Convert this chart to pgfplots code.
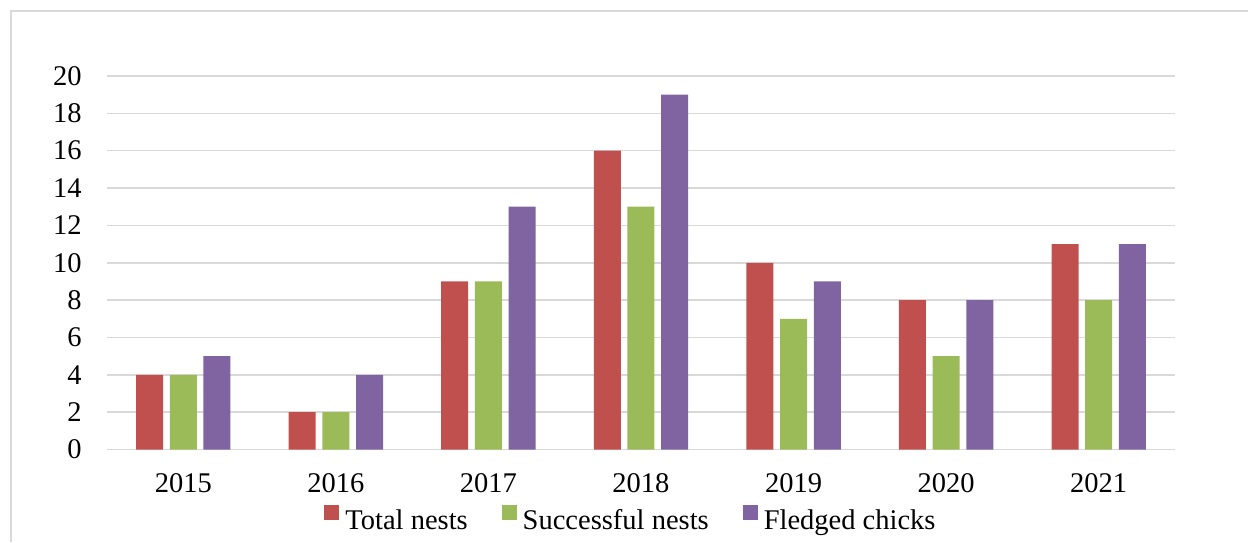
\documentclass[border=0pt]{standalone}
\usepackage{fontspec}
\setmainfont{Liberation Serif}
\usepackage{pgfplots}
\pgfplotsset{compat=1.18}
\definecolor{cred}{HTML}{C0504D}
\definecolor{cgreen}{HTML}{9BBB59}
\definecolor{cpurple}{HTML}{8064A2}
\definecolor{gridgray}{HTML}{D9D9D9}
\begin{document}
\begin{tikzpicture}
\useasboundingbox (0,0) rectangle (624pt,271pt);
\draw[gridgray, line width=0.75pt] (5.5pt,0) -- (5.5pt,265.5pt) -- (624pt,265.5pt);
\begin{axis}[
  at={(53.5pt,46.25pt)}, anchor=south west,
  scale only axis, width=534pt, height=186.75pt,
  xmin=-0.5, xmax=6.5, ymin=0, ymax=20,
  ybar=3.35pt, bar width=13.5pt,
  xtick={0,1,2,3,4,5,6},
  xticklabels={2015,2016,2017,2018,2019,2020,2021},
  ytick={0,2,4,6,8,10,12,14,16,18,20},
  major tick length=0pt,
  axis lines*=left,
  x axis line style={draw=gridgray, line width=0.75pt, -},
  y axis line style={draw=none},
  ymajorgrids, grid style={draw=gridgray, line width=0.75pt},
  /pgf/number format/assume math mode=true,
  tick label style={font=\fontsize{14.25pt}{17pt}\selectfont, inner sep=0pt},
  xticklabel style={anchor=north, yshift=-12pt},
  yticklabel style={anchor=east, xshift=-12.5pt},
  legend style={at={(0.4897,-0.186)}, anchor=center, draw=none, fill=none,
    font=\fontsize{14.25pt}{17pt}\selectfont, inner sep=0pt,
    legend columns=-1,
    /tikz/every even column/.append style={column sep=17pt},
    nodes={inner sep=0pt}},
  legend image code/.code={\fill[#1,draw=none] (0pt,0.5pt) rectangle (7.5pt,8pt);},
  legend style={/tikz/every odd column/.append style={column sep=3pt}},
]
\addplot[fill=cred, draw=none] coordinates {(0,4) (1,2) (2,9) (3,16) (4,10) (5,8) (6,11)};
\addplot[fill=cgreen, draw=none] coordinates {(0,4) (1,2) (2,9) (3,13) (4,7) (5,5) (6,8)};
\addplot[fill=cpurple, draw=none] coordinates {(0,5) (1,4) (2,13) (3,19) (4,9) (5,8) (6,11)};
\legend{Total nests, Successful nests, Fledged chicks}
\end{axis}
\end{tikzpicture}
\end{document}
